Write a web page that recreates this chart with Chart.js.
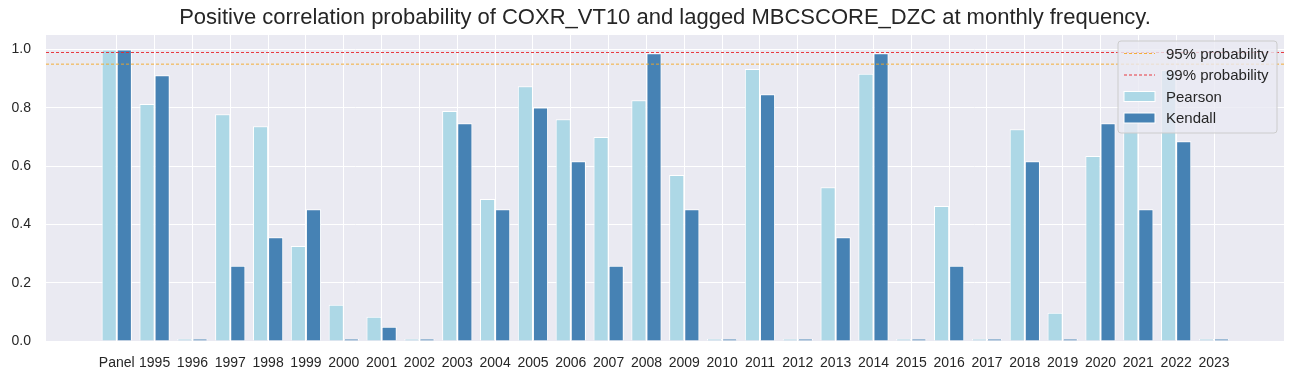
<!DOCTYPE html>
<html lang="en">
<head>
  <meta charset="UTF-8">
  <title>Positive correlation probability</title>
  <script src="https://cdn.jsdelivr.net/npm/chart.js"></script>
  <style>
    html, body { margin: 0; padding: 0; background: #fff; }
    #wrap { width: 1294px; height: 379px; }
  </style>
</head>
<body>
  <div id="wrap"><canvas id="chartCanvas" width="1294" height="379"></canvas></div>

  <script>
    // Datos
    const labels = ['Panel', '1995', '1996', '1997', '1998', '1999', '2000', '2001', '2002', '2003',
      '2004', '2005', '2006', '2007', '2008', '2009', '2010', '2011', '2012', '2013',
      '2014', '2015', '2016', '2017', '2018', '2019', '2020', '2021', '2022', '2023'];
    const pearson = [1.0, 0.813, 0.008, 0.778, 0.737, 0.326, 0.124, 0.083, 0.008, 0.789,
      0.487, 0.874, 0.761, 0.700, 0.826, 0.570, 0.008, 0.933, 0.008, 0.528,
      0.917, 0.008, 0.463, 0.008, 0.727, 0.097, 0.635, 0.77, 0.93, 0.008];
    const kendall = [1.0, 0.912, 0.008, 0.258, 0.356, 0.452, 0.008, 0.049, 0.008, 0.747,
      0.452, 0.801, 0.617, 0.258, 0.987, 0.452, 0.008, 0.847, 0.008, 0.356,
      0.987, 0.008, 0.258, 0.008, 0.617, 0.008, 0.747, 0.452, 0.685, 0.008];
    const yTicks = [0, 0.2, 0.4, 0.6, 0.8, 1.0];
    const thresholds = [0.95, 0.99];

    const X_MIN = -1.87, X_MAX = 30.85;
    const TXT = '#262626';
    const FONT = '"Liberation Sans", Arial, sans-serif';

    const toPoints = arr => arr.map((v, i) => ({ x: i, y: v }));
    const hline = y => [{ x: X_MIN, y }, { x: X_MAX, y }];

    // Fondo del área de trazado
    const bgPlugin = {
      id: 'bg',
      beforeDraw(chart) {
        const { ctx, chartArea: a } = chart;
        ctx.save();
        ctx.fillStyle = '#EAEAF2';
        ctx.fillRect(a.left, a.top, a.right - a.left, a.bottom - a.top);
        ctx.restore();
      }
    };

    // Título y leyenda al estilo matplotlib
    const decoPlugin = {
      id: 'deco',
      afterDraw(chart) {
        const { ctx, chartArea: a } = chart;
        ctx.save();
        ctx.fillStyle = TXT;
        ctx.font = '22px ' + FONT;
        ctx.textAlign = 'center';
        ctx.textBaseline = 'middle';
        ctx.fillText('Positive correlation probability of COXR_VT10 and lagged MBCSCORE_DZC at monthly frequency.',
          (a.left + a.right) / 2, 18);

        // caja de leyenda
        const bx = 1118, by = 41, bw = 159, bh = 92, r = 3;
        ctx.beginPath();
        ctx.moveTo(bx + r, by);
        ctx.arcTo(bx + bw, by, bx + bw, by + bh, r);
        ctx.arcTo(bx + bw, by + bh, bx, by + bh, r);
        ctx.arcTo(bx, by + bh, bx, by, r);
        ctx.arcTo(bx, by, bx + bw, by, r);
        ctx.closePath();
        ctx.fillStyle = 'rgba(234,234,242,0.8)';
        ctx.fill();
        ctx.strokeStyle = '#cccccc';
        ctx.lineWidth = 1;
        ctx.stroke();

        const rows = [53.5, 75, 96.5, 118];
        ctx.textAlign = 'left';
        ctx.font = '15px ' + FONT;
        chart.data.datasets.forEach((ds, i) => {
          const y = rows[i];
          if (ds.type === 'line') {
            ctx.beginPath();
            ctx.setLineDash([3, 2]);
            ctx.strokeStyle = ds.borderColor;
            ctx.lineWidth = 0.9;
            ctx.moveTo(1124, y);
            ctx.lineTo(1155, y);
            ctx.stroke();
            ctx.setLineDash([]);
          } else {
            ctx.fillStyle = ds.backgroundColor;
            ctx.fillRect(1124, y - 5, 31, 10);
            ctx.strokeStyle = '#ffffff';
            ctx.lineWidth = 1;
            ctx.strokeRect(1124, y - 5, 31, 10);
          }
          ctx.fillStyle = TXT;
          ctx.fillText(ds.label, 1166, y + 1);
        });
        ctx.restore();
      }
    };

    const ctx = document.getElementById('chartCanvas');
    new Chart(ctx, {
      type: 'bar',
      data: {
        datasets: [
          { type: 'line', label: '95% probability', data: hline(thresholds[0]), borderColor: '#f5a623',
            borderWidth: 0.9, borderDash: [3, 2], pointRadius: 0, order: 0 },
          { type: 'line', label: '99% probability', data: hline(thresholds[1]), borderColor: '#e8242a',
            borderWidth: 0.9, borderDash: [3, 2], pointRadius: 0, order: 0 },
          { label: 'Pearson', data: toPoints(pearson), backgroundColor: '#ADD8E6', borderColor: '#ffffff',
            borderWidth: 1, categoryPercentage: 0.8, barPercentage: 1.0, order: 1 },
          { label: 'Kendall', data: toPoints(kendall), backgroundColor: '#4682B4', borderColor: '#ffffff',
            borderWidth: 1, categoryPercentage: 0.8, barPercentage: 1.0, order: 1 }
        ]
      },
      options: {
        responsive: false,
        animation: false,
        layout: { padding: { left: 0, right: 10, top: 35, bottom: 0 } },
        plugins: { legend: { display: false }, title: { display: false }, tooltip: { enabled: false } },
        scales: {
          x: {
            type: 'linear',
            min: X_MIN, max: X_MAX,
            offset: false,
            grid: { color: '#ffffff', lineWidth: 1, drawTicks: false, offset: false },
            border: { display: false },
            afterBuildTicks: axis => { axis.ticks = labels.map((_, i) => ({ value: i })); },
            afterFit: axis => { axis.height = 38; },
            ticks: {
              autoSkip: false, maxRotation: 0, padding: 14, color: TXT,
              font: { family: FONT, size: 14 },
              callback: v => labels[v]
            }
          },
          y: {
            min: 0, max: 1.05,
            grid: { color: '#ffffff', lineWidth: 1, drawTicks: false },
            border: { display: false },
            afterBuildTicks: axis => { axis.ticks = yTicks.map(v => ({ value: v })); },
            afterFit: axis => { axis.width = 46; },
            ticks: {
              padding: 15, color: TXT,
              font: { family: FONT, size: 14 },
              callback: v => v.toFixed(1)
            }
          }
        }
      },
      plugins: [bgPlugin, decoPlugin]
    });
  </script>
</body>
</html>
